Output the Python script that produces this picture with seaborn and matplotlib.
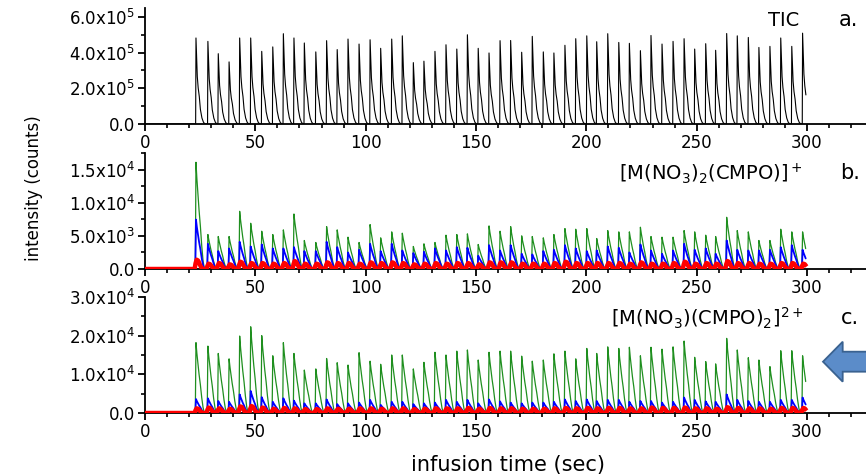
import numpy as np
import pandas as pd
import matplotlib
matplotlib.use("Agg")
import matplotlib.pyplot as plt
import seaborn as sns
from matplotlib.ticker import MultipleLocator
from matplotlib.patches import Polygon

# ---------------- data ----------------
peak_time = [23.1, 28.5, 33.2, 38.1, 42.9, 47.9, 52.9, 57.9, 62.7, 67.5,
             72.2, 77.4, 82.3, 87.1, 92.0, 97.0, 102.0, 106.8, 111.8, 116.6,
             121.6, 126.4, 131.4, 136.4, 141.3, 146.1, 151.0, 155.9, 160.9, 165.7,
             170.7, 175.5, 180.5, 185.3, 190.3, 195.2, 200.2, 204.7, 209.7, 214.7,
             219.5, 224.5, 229.3, 234.3, 239.3, 244.3, 249.1, 254.1, 258.6, 263.6,
             268.4, 273.4, 278.2, 283.2, 288.1, 293.1, 298.0]
end_time = 299.8

# panel a: TIC peak heights (x1e5 counts)
tic_peak_e5 = [4.82, 4.63, 3.94, 3.48, 4.82, 4.82, 4.07, 4.32, 5.06, 4.82,
               4.54, 4.04, 4.67, 4.17, 4.76, 4.48, 4.72, 4.24, 4.76, 4.94,
               3.44, 3.52, 4.07, 4.44, 4.20, 5.00, 4.24, 3.98, 4.67, 4.68,
               4.02, 4.91, 4.04, 3.98, 4.41, 4.78, 4.94, 4.61, 5.06, 4.57,
               4.52, 4.11, 4.96, 4.48, 4.63, 4.78, 4.20, 4.50, 4.13, 5.07,
               4.94, 4.85, 4.29, 4.35, 4.82, 4.35, 5.09]

# panel b: [M(NO3)2(CMPO)]+ peak heights (x1e4 counts)
b_green_e4 = [1.61, 0.52, 0.49, 0.49, 0.87, 0.69, 0.57, 0.52, 0.59, 0.83,
              0.43, 0.40, 0.64, 0.59, 0.48, 0.40, 0.67, 0.47, 0.56, 0.54,
              0.34, 0.38, 0.40, 0.51, 0.52, 0.53, 0.37, 0.65, 0.57, 0.64,
              0.50, 0.49, 0.47, 0.52, 0.61, 0.60, 0.61, 0.46, 0.58, 0.56,
              0.56, 0.63, 0.49, 0.48, 0.48, 0.58, 0.56, 0.51, 0.49, 0.78,
              0.58, 0.56, 0.43, 0.43, 0.60, 0.56, 0.56]
b_blue_e4 = [0.745, 0.38, 0.27, 0.31, 0.41, 0.34, 0.37, 0.31, 0.31, 0.33,
             0.27, 0.27, 0.41, 0.33, 0.25, 0.29, 0.38, 0.27, 0.38, 0.28,
             0.24, 0.26, 0.31, 0.28, 0.33, 0.32, 0.20, 0.36, 0.28, 0.36,
             0.23, 0.22, 0.27, 0.29, 0.36, 0.31, 0.27, 0.28, 0.34, 0.32,
             0.25, 0.37, 0.28, 0.23, 0.28, 0.38, 0.29, 0.31, 0.23, 0.43,
             0.29, 0.28, 0.28, 0.29, 0.33, 0.36, 0.29]
b_red_e4 = [0.14, 0.08, 0.09, 0.07, 0.11, 0.09, 0.09, 0.08, 0.09, 0.12,
            0.08, 0.08, 0.10, 0.09, 0.09, 0.08, 0.10, 0.09, 0.10, 0.09,
            0.07, 0.08, 0.09, 0.08, 0.09, 0.09, 0.07, 0.10, 0.10, 0.10,
            0.08, 0.08, 0.08, 0.09, 0.11, 0.09, 0.09, 0.09, 0.09, 0.09,
            0.08, 0.10, 0.08, 0.08, 0.09, 0.11, 0.08, 0.09, 0.08, 0.12,
            0.09, 0.09, 0.08, 0.08, 0.09, 0.09, 0.08]

# panel c: [M(NO3)(CMPO)2]2+ peak heights (x1e4 counts)
c_green_e4 = [1.82, 1.73, 1.54, 1.40, 1.99, 2.23, 2.00, 1.48, 1.82, 1.54,
              1.11, 1.14, 1.41, 1.30, 1.24, 1.56, 1.34, 1.26, 1.50, 1.50,
              1.14, 1.31, 1.57, 1.50, 1.60, 1.63, 1.37, 1.57, 1.60, 1.60,
              1.47, 1.34, 1.37, 1.53, 1.60, 1.40, 1.67, 1.54, 1.71, 1.67,
              1.70, 1.48, 1.70, 1.65, 1.71, 1.86, 1.44, 1.33, 1.27, 1.93,
              1.63, 1.43, 1.37, 1.20, 1.61, 1.61, 1.48]
c_blue_e4 = [0.36, 0.38, 0.31, 0.29, 0.48, 0.57, 0.41, 0.29, 0.38, 0.32,
             0.25, 0.25, 0.35, 0.23, 0.25, 0.27, 0.34, 0.21, 0.29, 0.29,
             0.23, 0.25, 0.27, 0.34, 0.29, 0.34, 0.25, 0.35, 0.30, 0.27,
             0.25, 0.27, 0.27, 0.29, 0.35, 0.31, 0.35, 0.31, 0.34, 0.34,
             0.29, 0.31, 0.31, 0.27, 0.29, 0.40, 0.34, 0.30, 0.29, 0.48,
             0.34, 0.31, 0.29, 0.29, 0.34, 0.34, 0.40]
c_red_e4 = [0.12, 0.14, 0.12, 0.11, 0.17, 0.18, 0.14, 0.11, 0.13, 0.12,
            0.10, 0.10, 0.12, 0.11, 0.11, 0.12, 0.12, 0.11, 0.12, 0.12,
            0.10, 0.11, 0.12, 0.12, 0.12, 0.13, 0.11, 0.13, 0.12, 0.12,
            0.11, 0.11, 0.11, 0.12, 0.13, 0.12, 0.13, 0.12, 0.13, 0.13,
            0.12, 0.12, 0.14, 0.13, 0.13, 0.14, 0.12, 0.12, 0.11, 0.15,
            0.13, 0.12, 0.12, 0.11, 0.13, 0.13, 0.13]

x_ticks = [0, 50, 100, 150, 200, 250, 300]
a_yticks = [0, 2e5, 4e5, 6e5]
a_ylabels = ["0.0", "2.0x10$^5$", "4.0x10$^5$", "6.0x10$^5$"]
b_yticks = [0, 5e3, 1e4, 1.5e4]
b_ylabels = ["0.0", "5.0x10$^3$", "1.0x10$^4$", "1.5x10$^4$"]
c_yticks = [0, 1e4, 2e4, 3e4]
c_ylabels = ["0.0", "1.0x10$^4$", "2.0x10$^4$", "3.0x10$^4$"]

# ---------------- peak profile styles (shape of one infusion pulse) ----------------
TIC_SHAPE = ([-0.15, 0.0, 0.3, 0.6, 1.0, 1.5, 2.0, 2.7, 3.4, 4.1],
             [0.0, 1.0, 0.78, 0.55, 0.42, 0.32, 0.17, 0.07, 0.02, 0.0])
ION_SHAPE = ([-0.3, 0.0, 0.4, 0.9, 1.4, 2.0, 2.6, 3.2, 3.8],
             [0.0, 1.0, 0.85, 0.7, 0.55, 0.4, 0.22, 0.08, 0.0])
RED_SHAPE = ([-0.6, -0.2, 0.3, 1.0, 1.8, 2.6, 3.4],
             [0.0, 0.6, 1.0, 0.9, 0.45, 0.08, 0.0])


def trace(heights, scale, shape):
    t, v = [0.0], [0.0]
    for pt, h in zip(peak_time, heights):
        for dt, f in zip(*shape):
            tt = pt + dt
            if tt > end_time:
                break
            t.append(tt)
            v.append(h * scale * f)
    return pd.DataFrame({"t": t, "v": v})


# ---------------- figure ----------------
sns.set_theme(style="ticks")
plt.rcParams["font.family"] = ["DejaVu Sans"]
plt.rcParams["mathtext.fontset"] = "dejavusans"
for k in ("text.color", "axes.labelcolor", "xtick.color", "ytick.color",
          "axes.edgecolor"):
    plt.rcParams[k] = "black"

W, H = 866, 476
fig = plt.figure(figsize=(W / 100, H / 100), dpi=100)
fig.patch.set_facecolor("white")


def px_axes(top, bottom):
    left = 145 / W
    return fig.add_axes([left, 1 - bottom / H, 1 - left, (bottom - top) / H])


ax_a = px_axes(8, 124)
ax_b = px_axes(153, 269)
ax_c = px_axes(297, 413)

GREEN = "#1f8f1f"
BLUE = "#0000ff"
RED = "#ff0000"

sns.lineplot(data=trace(tic_peak_e5, 1e5, TIC_SHAPE), x="t", y="v", ax=ax_a,
             color="black", lw=0.8, estimator=None, sort=False, zorder=3)

for ax, g, b, r in [(ax_b, b_green_e4, b_blue_e4, b_red_e4),
                    (ax_c, c_green_e4, c_blue_e4, c_red_e4)]:
    sns.lineplot(data=trace(g, 1e4, ION_SHAPE), x="t", y="v", ax=ax,
                 color=GREEN, lw=0.9, estimator=None, sort=False, zorder=3)
    sns.lineplot(data=trace(b, 1e4, ION_SHAPE), x="t", y="v", ax=ax,
                 color=BLUE, lw=1.3, estimator=None, sort=False, zorder=3)
    sns.lineplot(data=trace(r, 1e4, RED_SHAPE), x="t", y="v", ax=ax,
                 color=RED, lw=3.2, estimator=None, sort=False, zorder=3,
                 solid_capstyle="butt")

for ax, yt, yl, ylim, yminor in [(ax_a, a_yticks, a_ylabels, (0, 6.5e5), 1e5),
                                 (ax_b, b_yticks, b_ylabels, (0, 1.75e4), 2.5e3),
                                 (ax_c, c_yticks, c_ylabels, (0, 3.0e4), 5e3)]:
    ax.set_facecolor("white")
    ax.set_xlim(0, (W - 145) / (807 - 145) * 300)
    ax.set_ylim(*ylim)
    ax.set_xticks(x_ticks)
    ax.set_xticklabels([str(v) for v in x_ticks])
    ax.xaxis.set_minor_locator(MultipleLocator(10))
    ax.set_yticks(yt)
    ax.set_yticklabels(yl)
    ax.yaxis.set_minor_locator(MultipleLocator(yminor))
    ax.set_xlabel("")
    ax.set_ylabel("")
    sns.despine(ax=ax)
    for s in ("left", "bottom"):
        ax.spines[s].set_linewidth(1.3)
        ax.spines[s].set_color("black")
    ax.tick_params(which="major", direction="out", length=5, width=1.3,
                   color="black", labelcolor="black", labelsize=12, pad=2)
    ax.tick_params(which="minor", direction="out", length=3, width=1.2,
                   color="black")
    ax.tick_params(axis="y", labelsize=12, pad=2)
    ax.grid(False)


def ftext(x, y, s, **kw):
    fig.text(x / W, 1 - y / H, s, ha="center", va="center", color="black", **kw)


ftext(784, 20, "TIC", fontsize=14)
ftext(848, 20, "a.", fontsize=15)
ftext(711, 174, "[M(NO$_3$)$_2$(CMPO)]$^+$", fontsize=14)
ftext(850, 173, "b.", fontsize=15)
ftext(707, 318, "[M(NO$_3$)(CMPO)$_2$]$^{2+}$", fontsize=14)
ftext(850, 318, "c.", fontsize=15)
ftext(508, 465, "infusion time (sec)", fontsize=15)
ftext(34, 188, "intensity (counts)", fontsize=12, rotation=90)

# block arrow pointing at panel c
arrow_px = [(823, 361.7), (842.7, 341.7), (842.7, 351.7), (870, 351.7),
            (870, 371.7), (842.7, 371.7), (842.7, 381.7)]
arrow = Polygon([(x / W, 1 - y / H) for x, y in arrow_px], closed=True,
                transform=fig.transFigure, facecolor="#5b8cc9",
                edgecolor="#3a6290", lw=1.3)
fig.add_artist(arrow)

fig.savefig("out.png", dpi=100)
